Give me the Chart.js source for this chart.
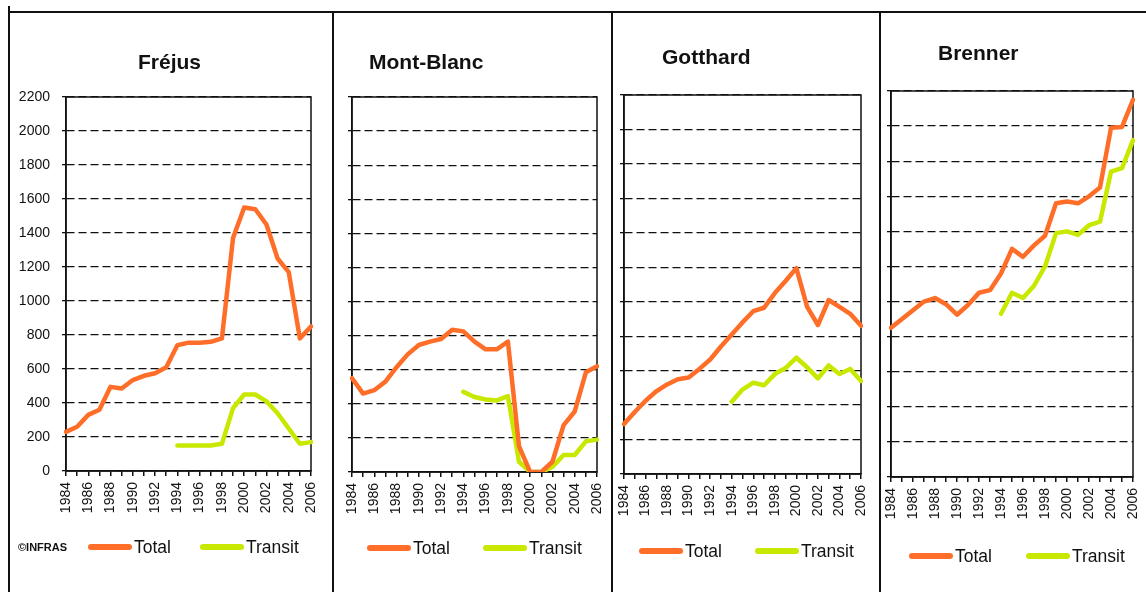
<!DOCTYPE html>
<html>
<head>
<meta charset="utf-8">
<script src="https://cdn.jsdelivr.net/npm/chart.js@4.4.1/dist/chart.umd.min.js"></script>
<style>
  body { margin: 0; background: #fff; width: 1146px; height: 592px; position: relative; overflow: hidden;
         font-family: "Liberation Sans", Arial, sans-serif; color: #111; }
  canvas { position: absolute; }
  .rule { position: absolute; background: #111; }
  .title { position: absolute; font-weight: bold; font-size: 21px; line-height: 24px; white-space: nowrap; }
  .item { position: absolute; height: 22px; display: flex; align-items: center; font-size: 17.5px; white-space: nowrap; }
  .swatch { display: inline-block; width: 44px; height: 6px; border-radius: 3px; margin-right: 2px; }
  .credit { position: absolute; font-weight: bold; font-size: 11px; line-height: 14px; }
</style>
</head>
<body>

<canvas id="frejus" width="322" height="578" style="left:10px;top:14px"></canvas>
<canvas id="montblanc" width="276" height="578" style="left:335px;top:14px"></canvas>
<canvas id="gotthard" width="265" height="578" style="left:614px;top:14px"></canvas>
<canvas id="brenner" width="264" height="578" style="left:882px;top:14px"></canvas>

<!-- panel frame -->
<div class="rule" style="left:8px;top:11px;width:1138px;height:2px"></div>
<div class="rule" style="left:8px;top:6px;width:2px;height:586px"></div>
<div class="rule" style="left:332px;top:11px;width:2px;height:581px"></div>
<div class="rule" style="left:611px;top:11px;width:2px;height:581px"></div>
<div class="rule" style="left:879px;top:11px;width:2px;height:581px"></div>

<div class="title" style="left:138px;top:50px">Fréjus</div>
<div class="title" style="left:369px;top:50px">Mont-Blanc</div>
<div class="title" style="left:662px;top:45px">Gotthard</div>
<div class="title" style="left:938px;top:41px">Brenner</div>

<div class="credit" style="left:18px;top:540px">©INFRAS</div>
<div id="legends"></div>

<script>
const years = ['1984', '1985', '1986', '1987', '1988', '1989', '1990', '1991', '1992', '1993', '1994', '1995',
               '1996', '1997', '1998', '1999', '2000', '2001', '2002', '2003', '2004', '2005', '2006'];
const yTicks = [0, 200, 400, 600, 800, 1000, 1200, 1400, 1600, 1800, 2000, 2200];

const frejusTotal = [230, 260, 330, 360, 495, 485, 535, 560, 575, 610, 740, 755, 755, 760, 780, 1370, 1550, 1540, 1450, 1250, 1170, 780, 850];
const frejusTransit = [null, null, null, null, null, null, null, null, null, null, 150, 150, 150, 150, 160, 370, 450, 450, 410, 340, 250, 160, 170];

const montBlancTotal = [550, 460, 480, 530, 615, 690, 745, 765, 780, 835, 825, 765, 720, 720, 765, 150, 0, 0, 60, 275, 355, 585, 620];
const montBlancTransit = [null, null, null, null, null, null, null, null, null, null, 470, 440, 425, 420, 445, 60, 0, 0, 30, 100, 100, 180, 190];

const gotthardTotal = [290, 360, 425, 480, 520, 550, 560, 610, 665, 740, 810, 880, 945, 965, 1050, 1120, 1195, 970, 865, 1010, 970, 930, 860];
const gotthardTransit = [null, null, null, null, null, null, null, null, null, null, 420, 490, 530, 515, 580, 615, 675, 620, 555, 630, 580, 610, 540];

const brennerTotal = [850, 900, 950, 1000, 1020, 985, 925, 980, 1050, 1065, 1160, 1300, 1255, 1320, 1375, 1560, 1570, 1560, 1600, 1650, 1990, 1995, 2150];
const brennerTransit = [null, null, null, null, null, null, null, null, null, null, 930, 1050, 1020, 1090, 1200, 1390, 1400, 1380, 1435, 1455, 1740, 1760, 1920];

const ORANGE = '#ff6e28';
const GREEN = '#c8e800';
const INK = '#111';

// solid frame round the plot area (top and right side)
const plotFrame = {
    id: 'plotFrame',
    beforeDatasetsDraw(chart) {
        const { ctx, chartArea: a } = chart;
        ctx.save();
        ctx.strokeStyle = INK;
        ctx.lineWidth = 1.5;
        ctx.strokeRect(a.left, a.top, a.right - a.left, a.bottom - a.top);
        ctx.restore();
    }
};

function makeChart(id, total, transit, box) {
    const tickFont = { family: '"Liberation Sans", Arial, sans-serif', size: 14 };
    return new Chart(document.getElementById(id), {
        type: 'line',
        data: {
            labels: years,
            datasets: [
                { label: 'Total', data: total, borderColor: ORANGE, backgroundColor: ORANGE },
                { label: 'Transit', data: transit, borderColor: GREEN, backgroundColor: GREEN }
            ]
        },
        options: {
            responsive: false,
            animation: false,
            layout: { padding: { left: 0, right: box.padRight, top: box.padTop, bottom: box.padBottom } },
            elements: {
                line: { borderWidth: 4.5, tension: 0, borderJoinStyle: 'round', borderCapStyle: 'round' },
                point: { radius: 0 }
            },
            plugins: { legend: { display: false }, tooltip: { enabled: false } },
            scales: {
                x: {
                    offset: false,
                    grid: { drawOnChartArea: false, tickLength: 5, color: INK, lineWidth: 1.5 },
                    border: { color: INK, width: 1.5 },
                    ticks: {
                        autoSkip: false, minRotation: 90, maxRotation: 90, padding: 6,
                        color: INK, font: tickFont,
                        callback: (v, i) => (i % 2 === 0 ? years[i] : '')
                    },
                    afterFit: s => {
                        s.height = box.xHeight;
                        // keep the plot edges where the layout padding puts them
                        s.paddingLeft = 0;
                        s.paddingRight = 0;
                    }
                },
                y: {
                    min: yTicks[0],
                    max: yTicks[yTicks.length - 1],
                    afterBuildTicks: s => { s.ticks = yTicks.map(v => ({ value: v })); },
                    grid: { color: INK, lineWidth: 1.3, tickLength: 4, tickBorderDash: [] },
                    border: { color: INK, width: 1.5, dash: [8, 4] },
                    ticks: {
                        padding: 12, color: INK, font: tickFont,
                        callback: v => (box.yLabels ? v : '')
                    },
                    afterFit: s => { s.width = box.yWidth; }
                }
            }
        },
        plugins: [plotFrame]
    });
}

makeChart('frejus', frejusTotal, frejusTransit, { yLabels: true, yWidth: 56, padTop: 83, padRight: 21, padBottom: 61, xHeight: 60 });
makeChart('montblanc', montBlancTotal, montBlancTransit, { yLabels: false, yWidth: 17, padTop: 83, padRight: 14, padBottom: 60, xHeight: 60 });
makeChart('gotthard', gotthardTotal, gotthardTransit, { yLabels: false, yWidth: 10, padTop: 81, padRight: 18, padBottom: 58, xHeight: 60 });
makeChart('brenner', brennerTotal, brennerTransit, { yLabels: false, yWidth: 9, padTop: 77, padRight: 13, padBottom: 55, xHeight: 60 });

// legends under each panel: [x of Total, x of Transit, centre y]
const legendSpots = [[88, 200, 547], [367, 483, 548], [639, 755, 551], [909, 1026, 556]];
const legendBox = document.getElementById('legends');
legendSpots.forEach(([xTotal, xTransit, cy]) => {
    [['Total', ORANGE, xTotal], ['Transit', GREEN, xTransit]].forEach(([name, color, x]) => {
        const item = document.createElement('div');
        item.className = 'item';
        item.style.left = x + 'px';
        item.style.top = (cy - 11) + 'px';
        item.innerHTML = `<span class="swatch" style="background:${color}"></span>${name}`;
        legendBox.appendChild(item);
    });
});
</script>
</body>
</html>
